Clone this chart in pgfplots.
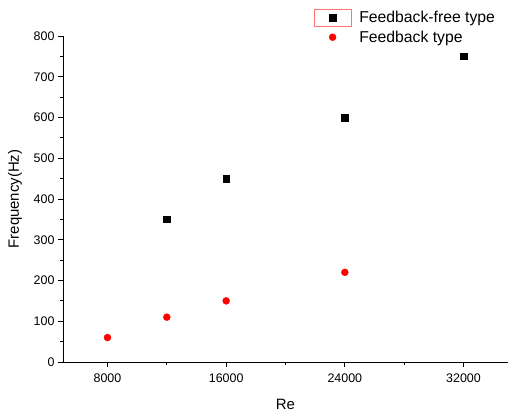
\documentclass[border=0pt]{standalone}
\usepackage{fontspec}
\setmainfont{Liberation Sans}
\usepackage{pgfplots}
\pgfplotsset{compat=1.18}
\pgfplotsset{
  plainleg/.style={legend image code/.code={
    \draw[mark repeat=2,mark phase=2,##1] plot coordinates {(0cm,0cm) (0.45cm,0cm) (0.9cm,0cm)};}},
  boxleg/.style={legend image code/.code={
    \draw[red!55,line width=0.6pt] (-0.2cm,-0.3cm) rectangle (1.1cm,0.3cm);
    \draw[mark repeat=2,mark phase=2,##1] plot coordinates {(0cm,0cm) (0.45cm,0cm) (0.9cm,0cm)};}},
}

\begin{document}
\begin{tikzpicture}
\begin{axis}[
  scale only axis,
  width=445bp,height=326bp,
  xmin=5000,xmax=35000,ymin=0,ymax=800,
  axis x line=bottom,axis y line=left,
  axis line style={-,black,line width=0.9pt},
  tick align=outside,
  major tick length=5bp,minor tick length=3bp,
  every tick/.style={black,line width=0.9pt},
  xtick={8000,16000,24000,32000},
  ytick={0,100,...,800},
  minor x tick num=1,minor y tick num=1,
  scaled x ticks=false,
  xticklabel style={yshift=-3bp,/pgf/number format/1000 sep={}},
  /pgf/number format/assume math mode=true,
  tick label style={font=\fontsize{12.5}{14}\selectfont},
  xlabel={Re},ylabel={Frequency(Hz)},
  label style={font=\fontsize{15}{17}\selectfont},
  xlabel style={yshift=-10bp},
  ylabel style={yshift=5bp},
  clip=false,
  legend style={font=\fontsize{15.8}{17}\selectfont,at={(0.561,1.086)},anchor=north west,
    draw=none,fill=none,row sep=2bp,inner sep=1bp},
  legend cell align=left,
  /tikz/every odd column/.append style={column sep=6bp},
]
\addplot[only marks,mark=square*,mark size=3.3pt,color=black,boxleg] coordinates {
  (12000,350) (16000,450) (24000,600) (32000,750)
};
\addlegendentry{Feedback-free type}
\addplot[only marks,mark=*,mark size=3.5pt,color=red,plainleg] coordinates {
  (8000,60) (12000,110) (16000,150) (24000,220)
};
\addlegendentry{Feedback type}
\end{axis}
\pgfresetboundingbox
\useasboundingbox ([xshift=-63bp,yshift=-51bp]current axis.south west) rectangle ([yshift=36bp]current axis.north east);
\end{tikzpicture}
\end{document}
